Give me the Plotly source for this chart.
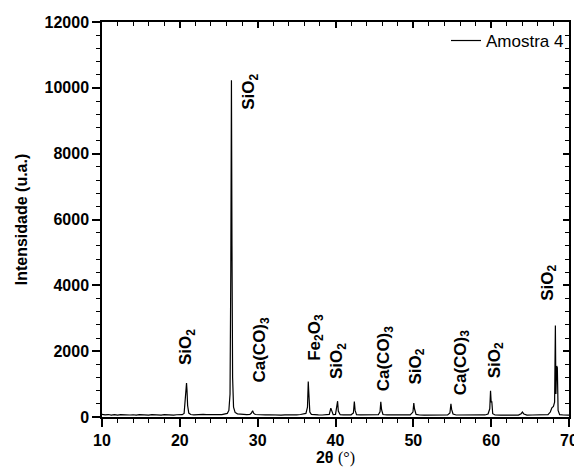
import plotly.graph_objects as go

two_theta = [10.0, 10.4, 10.8, 11.2, 11.6, 12.0, 12.4, 12.8, 13.2, 13.6, 14.0, 14.4, 14.8, 15.2, 15.6,
             16.0, 16.4, 16.8, 17.2, 17.6, 18.0, 18.4, 18.8, 19.2, 19.6, 20.0, 20.3, 20.55, 20.7, 20.8,
             20.86, 20.92, 21.0, 21.15, 21.4, 21.8, 22.2, 22.6, 23.0, 23.4, 23.8, 24.2, 24.6, 25.0, 25.4,
             25.8, 26.1, 26.3, 26.45, 26.55, 26.63, 26.7, 26.78, 26.9, 27.1, 27.4, 27.8, 28.2, 28.6, 29.0,
             29.2, 29.35, 29.5, 29.7, 30.1, 30.5, 31.0, 31.5, 32.0, 32.5, 33.0, 33.5, 34.0, 34.5, 35.0,
             35.5, 35.9, 36.2, 36.4, 36.5, 36.58, 36.7, 36.9, 37.3, 37.8, 38.3, 38.8, 39.2, 39.4, 39.52,
             39.7, 40.0, 40.2, 40.27, 40.36, 40.6, 41.0, 41.5, 42.0, 42.3, 42.42, 42.52, 42.7, 43.2, 43.8,
             44.4, 45.0, 45.5, 45.72, 45.82, 45.92, 46.1, 46.6, 47.2, 47.8, 48.4, 49.0, 49.6, 49.95, 50.06,
             50.15, 50.35, 50.8, 51.4, 52.0, 52.6, 53.2, 53.8, 54.4, 54.7, 54.83, 54.92, 55.1, 55.5, 56.2,
             57.0, 57.8, 58.5, 59.2, 59.6, 59.82, 59.92, 60.0, 60.08, 60.2, 60.5, 61.2, 62.0, 62.8, 63.5,
             63.85, 64.02, 64.2, 64.6, 65.3, 66.0, 66.7, 67.3, 67.6, 67.8, 68.0, 68.15, 68.25, 68.32, 68.42,
             68.5, 68.6, 68.8, 69.3, 70.0]
intensity = [80, 65, 75, 60, 72, 58, 70, 62, 74, 60, 68, 55, 70, 62, 66,
             58, 72, 60, 64, 56, 70, 60, 66, 58, 68, 62, 70, 110, 480, 900,
             1030, 820, 350, 120, 75, 65, 72, 60, 80, 70, 66, 60, 75, 70, 72,
             85, 110, 200, 700, 4500, 10230, 5200, 1200, 300, 140, 95, 80, 72, 70, 78,
             120, 190, 110, 75, 66, 70, 62, 68, 60, 66, 58, 64, 60, 68, 62,
             75, 90, 110, 300, 1080, 700, 150, 80, 65, 62, 60, 68, 80, 270, 200,
             70, 80, 350, 480, 180, 70, 62, 60, 66, 120, 470, 200, 70, 62, 60,
             64, 58, 70, 160, 460, 220, 75, 62, 58, 64, 60, 62, 66, 150, 420,
             250, 80, 60, 58, 62, 56, 60, 58, 64, 120, 400, 230, 90, 60, 58,
             55, 60, 58, 62, 90, 250, 800, 450, 480, 100, 60, 56, 58, 60, 58,
             100, 150, 90, 58, 60, 56, 60, 70, 150, 280, 320, 450, 2780, 700, 1550,
             1500, 200, 70, 60, 58]

series_name = "Amostra 4"
x_ticks = [10, 20, 30, 40, 50, 60, 70]
y_ticks = [0, 2000, 4000, 6000, 8000, 10000, 12000]
y_tick_labels = ["0", "2000", "4000", "6000", "8000", "10000", "12000"]

ann_text = ["SiO<sub>2</sub>", "SiO<sub>2</sub>", "Ca(CO)<sub>3</sub>", "Fe<sub>2</sub>O<sub>3</sub>",
            "SiO<sub>2</sub>", "Ca(CO)<sub>3</sub>", "SiO<sub>2</sub>", "Ca(CO)<sub>3</sub>",
            "SiO<sub>2</sub>", "SiO<sub>2</sub>"]
ann_x = [20.95, 29.1, 30.4, 37.4, 40.4, 46.4, 50.5, 56.2, 60.55, 67.4]
ann_y = [1525, 9260, 980, 1640, 1080, 730, 930, 585, 1130, 3460]

FAM = "Liberation Sans, Arial, sans-serif"
BOLD = dict(family=FAM, size=16, color="black", weight="bold")

fig = go.Figure()
fig.add_trace(go.Scatter(x=two_theta, y=intensity, mode="lines", name=series_name,
                         line=dict(color="black", width=1.2)))
# invisible trace to activate the mirrored top/right axes
fig.add_trace(go.Scatter(x=[x_ticks[0], x_ticks[-1]], y=[y_ticks[0], y_ticks[-1]], xaxis="x2", yaxis="y2",
                         mode="lines", line=dict(color="rgba(0,0,0,0)"), showlegend=False, hoverinfo="skip"))

for t, xv, yv in zip(ann_text, ann_x, ann_y):
    fig.add_annotation(x=xv, y=yv, text="<b>" + t + "</b>", textangle=-90, showarrow=False,
                       xanchor="center", yanchor="bottom", font=dict(family=FAM, size=17, color="black"))

axis_common = dict(showline=True, linewidth=1.5, linecolor="black", showgrid=False, zeroline=False,
                   ticklen=8, tickwidth=1.5, tickcolor="black", tickfont=BOLD, automargin=False)

# page body has an 8px default margin, so the figure is 8px smaller in each direction
fig.update_layout(
    width=574, height=467,
    margin=dict(l=94, r=13, t=14, b=58),
    paper_bgcolor="white", plot_bgcolor="white",
    xaxis=dict(axis_common, range=[10, 70], tickvals=x_ticks, ticks="outside",
               minor=dict(dtick=2, ticks="outside", ticklen=4, tickwidth=1.2, tickcolor="black"),
               title=dict(text="<b>2θ</b> <span style='font-family:Liberation Serif'>(°)</span>",
                          font=dict(family=FAM, size=16, color="black"), standoff=4)),
    yaxis=dict(axis_common, range=[0, 12000], tickvals=y_ticks, ticktext=y_tick_labels, ticks="outside",
               minor=dict(dtick=400, ticks="outside", ticklen=4, tickwidth=1.2, tickcolor="black"),
               title=dict(text="Intensidade (u.a.)", font=BOLD, standoff=13)),
    xaxis2=dict(axis_common, overlaying="x", side="top", range=[10, 70], tickvals=x_ticks, ticks="inside",
                showticklabels=False, ticklen=6,
                minor=dict(dtick=2, ticks="inside", ticklen=4, tickwidth=1.2, tickcolor="black")),
    yaxis2=dict(axis_common, overlaying="y", side="right", range=[0, 12000], tickvals=y_ticks, ticks="inside",
                showticklabels=False, ticklen=6,
                minor=dict(dtick=400, ticks="inside", ticklen=4, tickwidth=1.2, tickcolor="black")),
    legend=dict(x=1.0, y=0.952, xanchor="right", yanchor="middle", bgcolor="rgba(0,0,0,0)",
                font=dict(family=FAM, size=17, color="black")),
    showlegend=True,
)

fig.write_html("out.html")
